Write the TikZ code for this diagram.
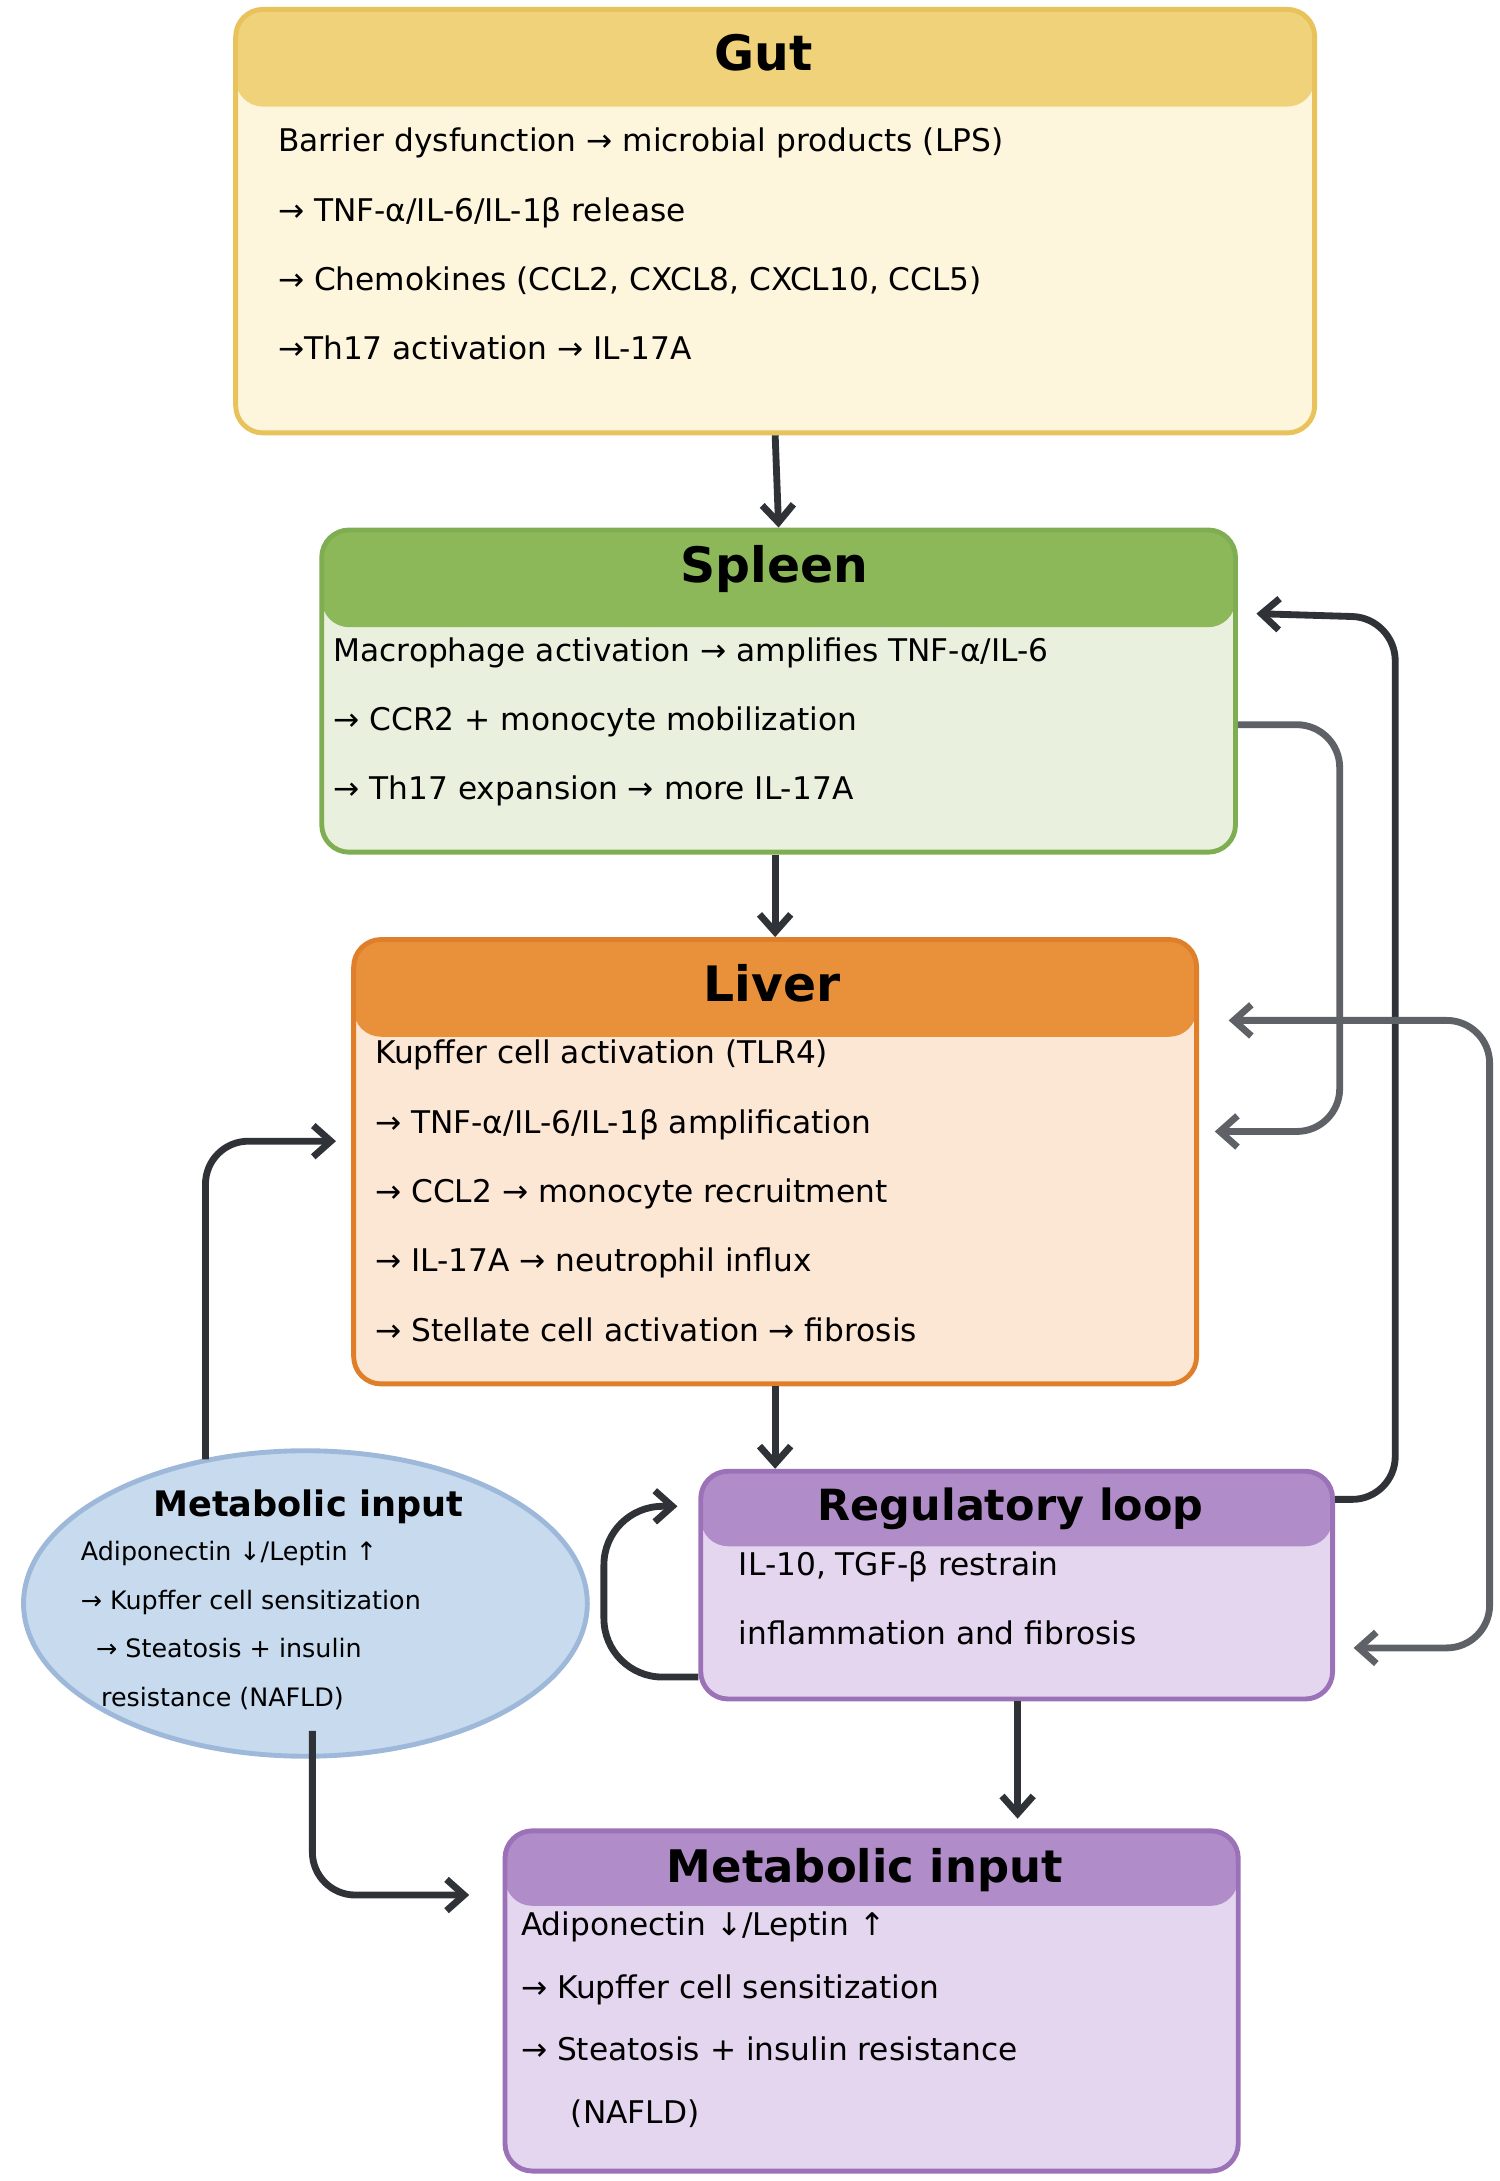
\documentclass[tikz,border=0pt]{standalone}
\usepackage{fontspec}
\setmainfont{DejaVu Sans}
\usetikzlibrary{arrows.meta,shapes.geometric,positioning}
\definecolor{gutH}{HTML}{F0D27A}\definecolor{gutB}{HTML}{FDF5DC}\definecolor{gutD}{HTML}{E8C25A}
\definecolor{splH}{HTML}{8DB85A}\definecolor{splB}{HTML}{E9F1DE}\definecolor{splD}{HTML}{7FAE52}
\definecolor{livH}{HTML}{E8913A}\definecolor{livB}{HTML}{FCE6D4}\definecolor{livD}{HTML}{E07F2A}
\definecolor{regH}{HTML}{B08CC8}\definecolor{regB}{HTML}{E4D6EE}\definecolor{regD}{HTML}{9B72B8}
\definecolor{metB}{HTML}{C7DAEE}\definecolor{metD}{HTML}{9DB8D8}
\definecolor{darkA}{HTML}{2F3338}\definecolor{grayA}{HTML}{5E6266}
\tikzset{
  organ/.style args={#1/#2/#3/#4}{draw=#3,fill=#2,line width=2.5pt,rounded corners=14pt,
    anchor=north west,minimum width=#4,inner sep=0pt,
    path picture={\fill[#1] (path picture bounding box.north west) rectangle
      ([yshift=-1.75cm]path picture bounding box.north east);}},
  title/.style={font=\fontsize{25}{30}\bfseries},
  lines/.style={font=\fontsize{16}{35.5}\selectfont,align=left,anchor=north west,inner sep=0pt},
  flow/.style={draw=darkA,line width=3.5pt,-{Straight Barb[length=9pt,width=16pt,line width=3.5pt]},rounded corners=22pt},
  flowg/.style={flow,draw=grayA}
}
\begin{document}
\begin{tikzpicture}[x=0.025cm,y=-0.025cm]
\useasboundingbox (0,0) rectangle (1080,1571);
% boxes
\node[organ={gutH/gutB/gutD/19.425cm},minimum height=7.625cm] (gut) at (168,5) {};
\node[organ={splH/splB/splD/16.45cm},minimum height=5.8cm] (spleen) at (230,380) {};
\node[organ={livH/livB/livD/15.175cm},minimum height=8cm] (liver) at (253,675) {};
\node[organ={regH/regB/regD/11.375cm},minimum height=4.1cm,
  path picture={\fill[regH] (path picture bounding box.north west) rectangle ([yshift=-1.35cm]path picture bounding box.north east);}] (reg) at (503,1058) {};
\node[organ={regH/regB/regD/13.2cm},minimum height=6.125cm,
  path picture={\fill[regH] (path picture bounding box.north west) rectangle ([yshift=-1.35cm]path picture bounding box.north east);}] (out) at (362,1317) {};
\node[ellipse,draw=metD,fill=metB,line width=2.5pt,minimum width=10.15cm,minimum height=5.5cm] (met) at (220,1155) {};
% titles
\node[title] at (550,38) {Gut};
\node[title] at (558,410) {Spleen};
\node[title] at (556,708) {Liver};
\node[title,font=\fontsize{22}{26}\bfseries] at (728,1087) {Regulatory loop};
\node[title,font=\fontsize{23}{28}\bfseries] at (623,1347) {Metabolic input};
\node[title,font=\fontsize{18}{22}\bfseries] at (222,1085) {Metabolic input};
% texts
\node[lines] (gutT) at (200,92) {Barrier dysfunction → microbial products (LPS)\\→ TNF-α/IL-6/IL-1β release\\→ Chemokines (CCL2, CXCL8, CXCL10, CCL5)\\→Th17 activation → IL-17A};
\node[lines] (splT) at (240,459) {Macrophage activation → amplifies TNF-α/IL-6\\→ CCR2 + monocyte mobilization\\→ Th17 expansion → more IL-17A};
\node[lines] (livT) at (270,749) {Kupffer cell activation (TLR4)\\→ TNF-α/IL-6/IL-1β amplification\\→ CCL2 → monocyte recruitment\\→ IL-17A → neutrophil influx\\→ Stellate cell activation → fibrosis};
\node[lines] (regT) at (532,1117) {IL-10, TGF-β restrain\\inflammation and fibrosis};
\node[lines,font=\fontsize{16}{32}\selectfont] (outT) at (375,1377) {Adiponectin ↓/Leptin ↑\\→ Kupffer cell sensitization\\→ Steatosis + insulin resistance\\\hspace{1.6em}(NAFLD)};
\node[lines,font=\fontsize{13}{24.9}\selectfont] (metT) at (58,1110) {Adiponectin ↓/Leptin ↑\\→ Kupffer cell sensitization\\\hspace{0.6em}→ Steatosis + insulin\\\hspace{0.8em}resistance (NAFLD)};
% connectors
\coordinate (fbA) at (905,442);
\coordinate (fbB) at (875,815);
\coordinate (fbC) at (885,735);
\coordinate (fbD) at (975,1187);
\coordinate (fbE) at (488,1085);
\coordinate (fbF) at (242,822);
\coordinate (fbG) at (338,1365);
\draw[flow] (gut.south) -- (spleen.north);
\draw[flow] (spleen.south -| liver.north) -- (liver.north);
\draw[flow] (liver.south) -- (liver.south |- reg.north);
\draw[flow] (reg.south -| 733,0) -- (733,1310);
\draw[flow] (reg.east |- 0,1080) -- (1005,1080) -- (1005,445) -- (fbA);
\draw[flowg] (spleen.east |- 0,522) -- (965,522) -- (965,815) -- (fbB);
\draw[flowg,{Straight Barb[length=9pt,width=16pt,line width=3.5pt]}-{Straight Barb[length=9pt,width=16pt,line width=3.5pt]},draw=grayA] (fbC) -- (1073,735) -- (1073,1187) -- (fbD);
\draw[flow,rounded corners=30pt] (reg.west |- 0,1208) -- (435,1208) -- (435,1085) -- (fbE);
\draw[flow] (met.north -| 148,0) ++(0,8) -- (148,822) -- (fbF);
\draw[flow] (met.south -| 225,0) ++(0,-20) -- (225,1365) -- (fbG);
\end{tikzpicture}
\end{document}
